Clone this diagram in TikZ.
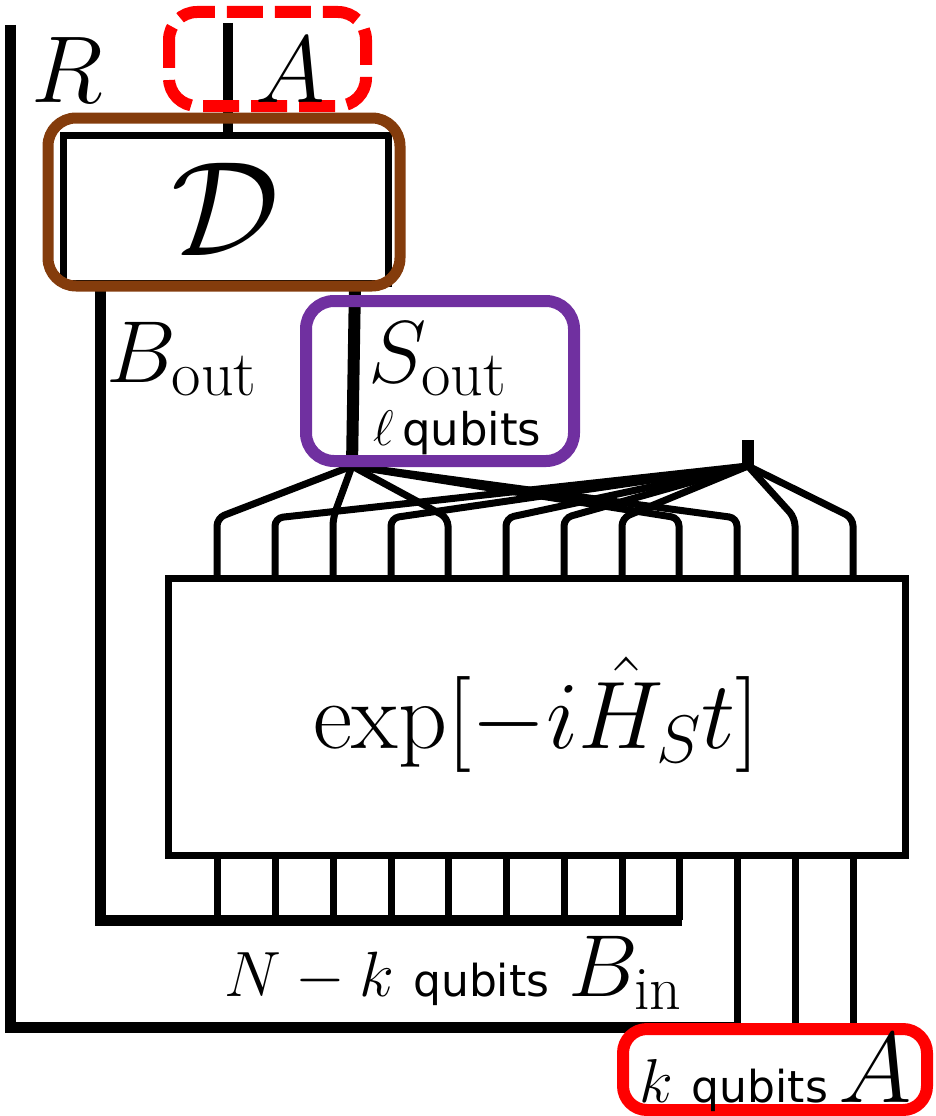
\RequirePackage{fix-cm}
\documentclass[tikz,border=0pt]{standalone}
\usepackage{fontspec}
\newfontfamily\qfont{DejaVu Sans}
\definecolor{brownc}{HTML}{843C0C}
\definecolor{purplec}{HTML}{7030A0}
\definecolor{redc}{HTML}{FF0000}
\newcommand{\fs}[1]{\fontsize{#1}{#1}\selectfont}
\begin{document}
\begin{tikzpicture}[x=1pt,y=-1pt,
  thickwire/.style={line width=11pt},
  wire/.style={line width=7pt},
  fanwire/.style={line width=7pt, rounded corners=8pt},
  blackbox/.style={draw, line width=7pt, inner sep=0pt},
  hilite/.style={line width=11pt, rounded corners=28pt},
  lbl/.style={inner sep=0pt, anchor=base}]
\useasboundingbox (0,0) rectangle (935,1116);

% boxes
\node[blackbox, minimum width=325pt, minimum height=148pt] (D) at (225.5,209) {\fs{135}$\mathcal{D}$};
\node[blackbox, minimum width=737pt, minimum height=277pt] (U) at (536.5,716.5) {};
\node[lbl] (Ulbl) at (536,748) {\fs{96}$\exp[-i\hat{H}_S t]$};

% named coordinates
\coordinate (Rtop) at (10,25);
\coordinate (Rbot) at (10,1027);
\coordinate (Rend) at (740,1027);
\coordinate (Atop) at (228,23);
\coordinate (Dtop) at (228,135);
\coordinate (Bo) at (100,283);
\coordinate (Bc) at (100,920);
\coordinate (Be) at (682,920);
\coordinate (So) at (355,283);
\coordinate (sf) at (352,466);
\coordinate (rs) at (748,440);
\coordinate (rf) at (748,466);

\foreach \i/\x in {1/217,2/275,3/333,4/391,5/448,6/506,7/564,8/622,9/679,10/737,11/795,12/853}{
  \coordinate (pt\i) at (\x,578);
  \coordinate (pk\i) at (\x,518);
  \coordinate (pb\i) at (\x,855);
  \coordinate (pe\i) at (\x,920);
  \coordinate (pa\i) at (\x,1027);
}

% R wire
\draw[thickwire] (Rtop) -- (Rbot) -- (Rend);
% A wire
\draw[line width=10pt] (Atop) -- (Dtop);
% B out / B in
\draw[thickwire] (Bo) -- (Bc) -- (Be);
% S out
\draw[line width=12pt] (So) -- (sf);
\draw[line width=12pt] (rs) -- (rf);

% fan
\foreach \i in {1,3,5,9,10}{ \draw[fanwire] (pt\i) -- (pk\i) -- (sf); }
\foreach \i in {2,4,6,7,8,11,12}{ \draw[fanwire] (pt\i) -- (pk\i) -- (rf); }

% bottom legs
\foreach \i in {1,...,9}{ \draw[wire] (pb\i) -- (pe\i); }
\foreach \i in {10,11,12}{ \draw[wire] (pb\i) -- (pa\i); }

% highlight boxes
\draw[hilite, redc, line width=12pt, dash pattern=on 36pt off 12pt, dash phase=8pt] (169,12) rectangle (366,106);
\draw[hilite, brownc] (48,118) rectangle (400,286);
\draw[hilite, purplec, line width=12pt] (306,301) rectangle (574,461);
\draw[hilite, redc, line width=12pt, rounded corners=24pt] (623,1029) rectangle (927,1110);

% labels
\node[lbl] (Rl) at (67,102) {\fs{95}$R$};
\node[lbl] (Al) at (290,102) {\fs{95}$A$};
\node[lbl, anchor=base west] (Bout) at (106,382) {\fs{88}$B_{\mbox{\fs{64}out}}$};
\node[lbl, anchor=base west] (Sout) at (368,382) {\fs{88}$S_{\mbox{\fs{64}out}}$};
\node[lbl, anchor=base west] (ell) at (373,445) {\fs{50}$\ell$\,\fs{45}\qfont qubits};
\node[lbl, anchor=base east] (Bin) at (682,996) {\fs{64}$N-k$ {\fs{44}\qfont qubits} \fs{88}$B_{\mbox{\fs{62}in}}$};
\node[lbl, anchor=base east] (kA) at (912,1102) {\fs{62}$k$ {\fs{44}\qfont qubits}\,\fs{100}$A$};
\end{tikzpicture}
\end{document}
